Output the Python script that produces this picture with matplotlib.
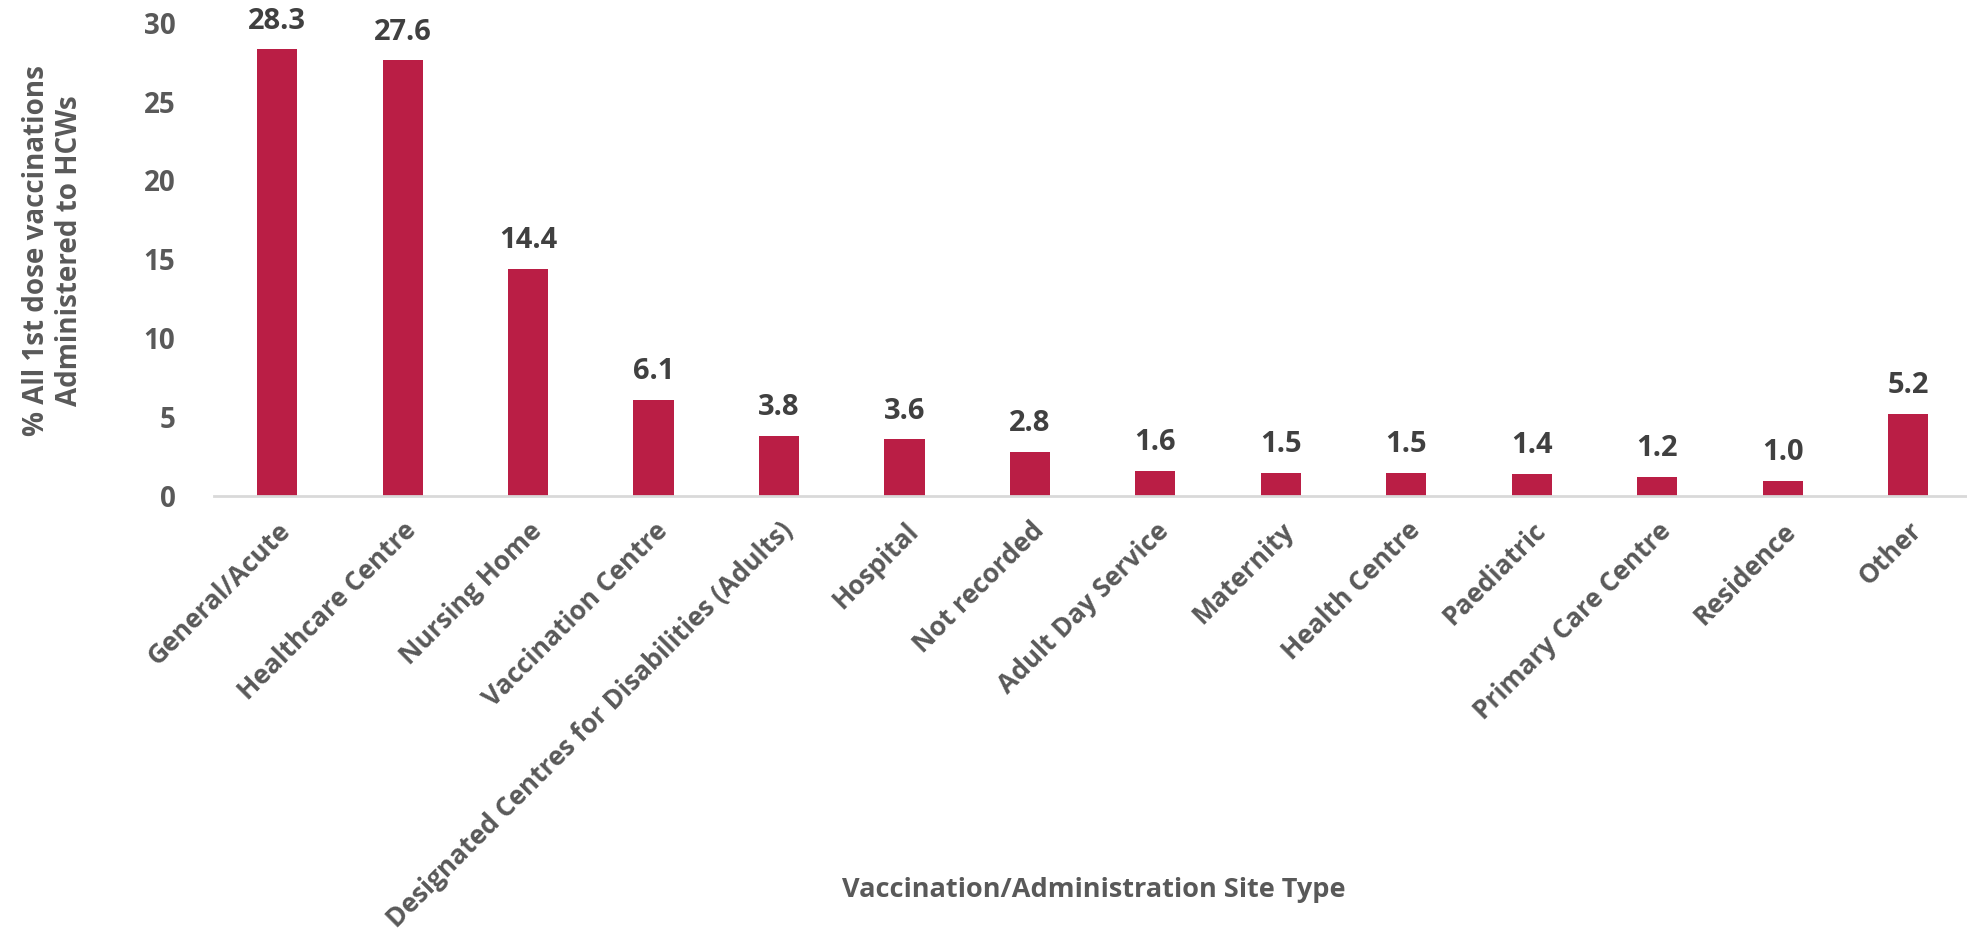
import matplotlib
matplotlib.use("Agg")
import matplotlib.pyplot as plt

categories = ["General/Acute", "Healthcare Centre", "Nursing Home", "Vaccination Centre",
              "Designated Centres for Disabilities (Adults)", "Hospital", "Not recorded",
              "Adult Day Service", "Maternity", "Health Centre", "Paediatric",
              "Primary Care Centre", "Residence", "Other"]
values = [28.3, 27.6, 14.4, 6.1, 3.8, 3.6, 2.8, 1.6, 1.5, 1.5, 1.4, 1.2, 1.0, 5.2]
yticks = [0, 5, 10, 15, 20, 25, 30]

plt.rcParams['font.family'] = ['Open Sans', 'DejaVu Sans']
plt.rcParams['font.weight'] = 'bold'

fig = plt.figure(figsize=(19.67, 9.40), dpi=100)
ax = fig.add_axes([0.109, 0.472, 0.893, 0.504])

x = list(range(len(categories)))
ax.bar(x, values, width=0.32, color='#BA1E45', zorder=2)
for xi, v in zip(x, values):
    ax.annotate(f"{v:.1f}", (xi, v), xytext=(0, 10), textcoords='offset points',
                ha='center', va='bottom', fontsize=21, fontweight='bold', color='#404040')

ax.set_xlim(-0.5, 13.5)
ax.set_ylim(0, 30)
ax.set_yticks(yticks)
ax.set_yticklabels([str(t) for t in yticks], fontsize=20, fontweight='bold', color='#595959')
ax.set_xticks(x)
ax.set_xticklabels(categories, rotation=45, ha='right', rotation_mode='anchor',
                   fontsize=19, fontweight='bold', color='#595959')
ax.tick_params(axis='both', length=0)
ax.tick_params(axis='y', pad=28)
ax.tick_params(axis='x', pad=15)
for s in ['top', 'right', 'left']:
    ax.spines[s].set_visible(False)
ax.spines['bottom'].set_color('#D9D9D9')
ax.spines['bottom'].set_linewidth(2)

fig.text(0.027, 0.733, "% All 1st dose vaccinations\nAdministered to HCWs", rotation=90,
         ha='center', va='center', fontsize=20, fontweight='bold', color='#595959',
         multialignment='center', linespacing=1.2)
fig.text(0.556, 0.053, "Vaccination/Administration Site Type", ha='center', va='center',
         fontsize=19.5, fontweight='bold', color='#595959')

fig.savefig("out.png", dpi=100)
